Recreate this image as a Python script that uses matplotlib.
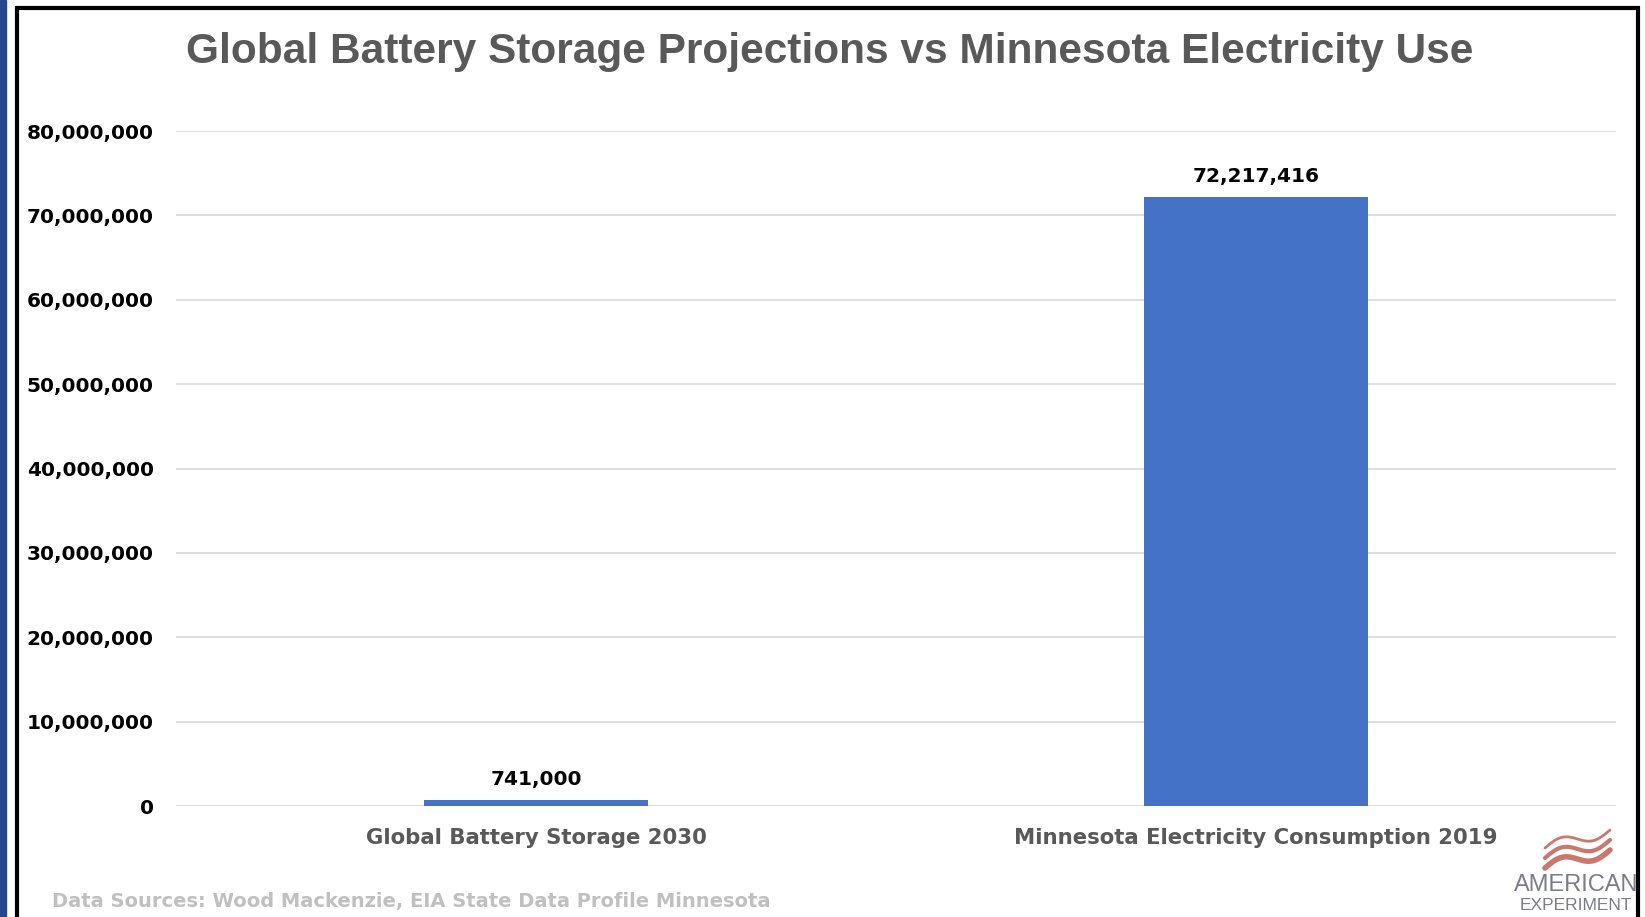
import numpy as np
import matplotlib.pyplot as plt
from matplotlib.patches import Rectangle
from matplotlib.ticker import FuncFormatter

plt.rcParams['font.family'] = ['Liberation Sans', 'DejaVu Sans']

categories = ['Global Battery Storage 2030', 'Minnesota Electricity Consumption 2019']
values = [741000, 72217416]
value_labels = ['741,000', '72,217,416']
y_ticks = [0, 10000000, 20000000, 30000000, 40000000, 50000000, 60000000, 70000000, 80000000]

W, H = 1645, 917
fig = plt.figure(figsize=(W / 100, H / 100), dpi=100)
wide = ['DejaVu Sans']

# frame: blue strip at left, black border around the white chart
fig.patches.append(Rectangle((0, 0), 6 / W, 1, transform=fig.transFigure,
                             color='#24478f', zorder=0))
fig.patches.append(Rectangle((17 / W, -0.02), (1638 - 17) / W, 1 - 8 / H + 0.02,
                             transform=fig.transFigure, facecolor='none',
                             edgecolor='black', lw=3, zorder=5))

ax = fig.add_axes([176 / W, 1 - 806 / H, 1440 / W, (806 - 131) / H])
x = np.arange(len(categories))
bars = ax.bar(x, values, width=0.31, color='#4472C4', zorder=3)
ax.set_xlim(-0.5, 1.5)
ax.set_ylim(0, 80000000)
ax.set_yticks(y_ticks)
ax.yaxis.set_major_formatter(FuncFormatter(lambda v, p: f'{int(v):,}'))
ax.grid(axis='y', color='#d9d9d9', lw=1.2, zorder=0)
for s in ax.spines.values():
    s.set_visible(False)
ax.tick_params(axis='both', length=0)
ax.tick_params(axis='y', pad=16)
for lbl in ax.get_yticklabels():
    lbl.set_family(wide)
    lbl.set_fontsize(14.5)
    lbl.set_fontweight('bold')
    lbl.set_color('black')
ax.set_xticks(x)
ax.set_xticklabels(categories, fontsize=15.3, fontweight='bold', color='#595959',
                   family=wide)
ax.tick_params(axis='x', pad=16)

for b, lab in zip(bars, value_labels):
    ax.annotate(lab, (b.get_x() + b.get_width() / 2, b.get_height()),
                xytext=(0, 8), textcoords='offset points', ha='center', va='bottom',
                fontsize=14.5, fontweight='bold', color='black', family=wide)

fig.text(830 / W, 1 - 52 / H, 'Global Battery Storage Projections vs Minnesota Electricity Use',
         ha='center', va='center', fontsize=30.5, fontweight='bold', color='#595959')
fig.text(52 / W, 1 - 901 / H, 'Data Sources: Wood Mackenzie, EIA State Data Profile Minnesota',
         ha='left', va='center', fontsize=14, fontweight='bold', color='#c0c0c0',
         family=wide)

# logo
fig.text(1576 / W, 1 - 885 / H, 'AMERICAN', ha='center', va='center',
         fontsize=17, color='#7b7b8c')
fig.text(1576 / W, 1 - 906 / H, 'EXPERIMENT', ha='center', va='center',
         fontsize=12.5, color='#7b7b8c')
t = np.linspace(0, 1, 30)
for k in range(3):
    xs = (1545 + 65 * t) / W
    ys = 1 - (868 - 10 * k - 18 * t - 6 * np.sin(np.pi * t * 2)) / H
    fig.add_artist(plt.Line2D(xs, ys, transform=fig.transFigure,
                              color='#c9786e', lw=4 - k, solid_capstyle='round'))

fig.savefig('out.png', dpi=100)
